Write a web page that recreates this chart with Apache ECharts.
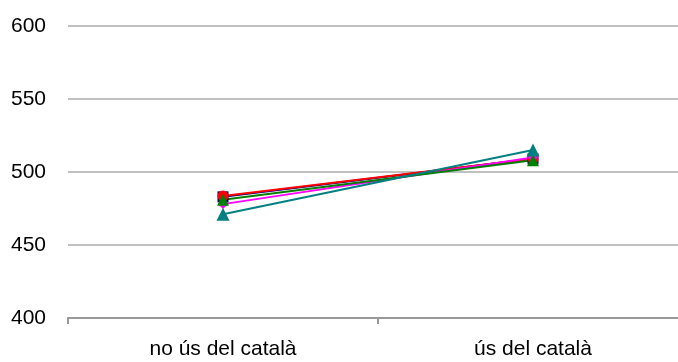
<!DOCTYPE html>
<html><head><meta charset="utf-8">
<script src="https://cdn.jsdelivr.net/npm/echarts@6/dist/echarts.min.js"></script>
<style>html,body{margin:0;padding:0;background:#fff;overflow:hidden}#c{width:678px;height:362px}</style>
</head><body><div id="c"></div>
<script>
const categories = ['no ús del català', 'ús del català'];
const navySeries = [483, 509];
const redSeries = [483.5, 509];
const greenSeries = [481, 508];
const magentaSeries = [478, 510];
const tealSeries = [471, 515];
const yTicks = { min: 400, max: 600, interval: 50 };

const chart = echarts.init(document.getElementById('c'));
function s(name, data, color, symbol, size) {
  return { name, type: 'line', data, symbol, symbolSize: size,
    lineStyle: { color, width: 2 }, itemStyle: { color, borderWidth: 0 }, animation: false };
}
chart.setOption({
  animation: false,
  grid: { left: 68, right: -10, top: 26, bottom: 44, outerBoundsMode: 'none', containLabel: false },
  xAxis: { type: 'category', data: categories, boundaryGap: true,
    axisLine: { lineStyle: { color: '#999', width: 2 } },
    axisTick: { show: true, length: 6, lineStyle: { color: '#999', width: 2 } },
    axisLabel: { color: '#000', fontSize: 21, fontFamily: 'Liberation Sans', margin: 21 } },
  yAxis: { type: 'value', min: yTicks.min, max: yTicks.max, interval: yTicks.interval,
    axisLine: { show: false }, axisTick: { show: false },
    splitLine: { lineStyle: { color: '#c0c0c0', width: 2 } },
    axisLabel: { color: '#000', fontSize: 21, fontFamily: 'Liberation Sans', margin: 22 } },
  series: [
    s('navy', navySeries, '#000080', 'rect', 11),
    s('red', redSeries, '#ff0000', 'circle', 11),
    s('magenta', magentaSeries, '#ff00ff', 'diamond', 10),
    s('green', greenSeries, '#008000', 'triangle', 12),
    s('teal', tealSeries, '#008080', 'triangle', 13)
  ]
});
</script></body></html>
